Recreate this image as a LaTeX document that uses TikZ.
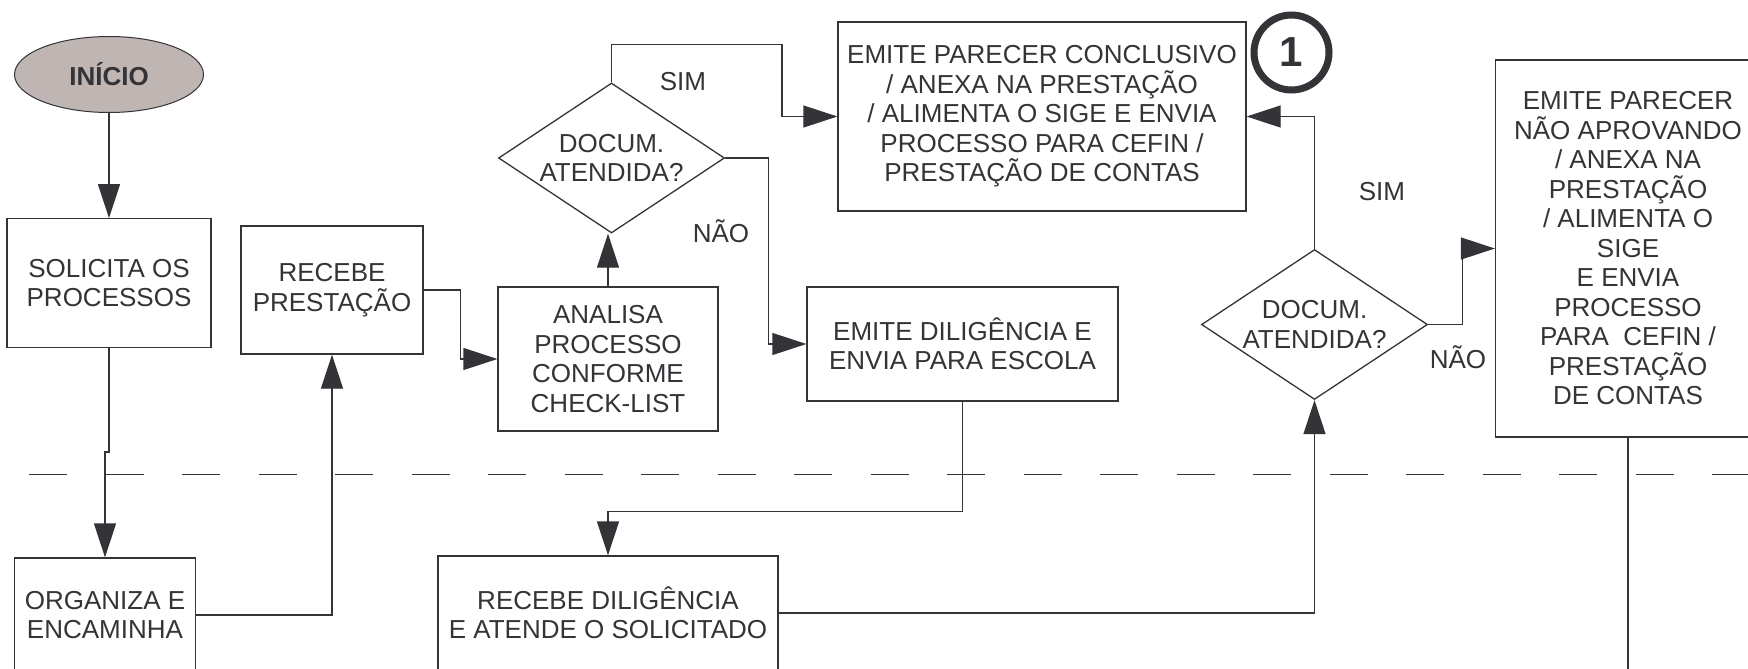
\documentclass[tikz,border=0pt]{standalone}
\usepackage{fontspec}
\setmainfont{Liberation Sans}
\usetikzlibrary{shapes.geometric,arrows.meta}
\definecolor{ink}{HTML}{333338}
\definecolor{startfill}{HTML}{BFB6B4}

\begin{document}
\begin{tikzpicture}[x=1pt, y=-1pt,
	box/.style={draw=ink, text=ink, line width=1.3pt, shape=rectangle, inner sep=0pt, align=center, font=\fontsize{26}{29.5}\selectfont},
	decision/.style={box, shape=diamond, aspect=1.5},
	arr/.style={draw=ink, line width=1.3pt, -{Triangle[length=34pt, width=22pt]}},
	lbl/.style={text=ink, inner sep=0pt, font=\fontsize{26}{29.5}\selectfont}]
	\useasboundingbox (0,0) rectangle (1748,669);
	\clip (0,0) rectangle (1748,669);

	\node[draw=ink, fill=startfill, text=ink, shape=ellipse, line width=1pt, minimum width=189pt, minimum height=76pt, inner sep=0pt, font=\bfseries\fontsize{26}{29}\selectfont] (p_start) at (109,74.5) {INÍCIO};
	\node[box, minimum width=204pt, minimum height=128.5pt] (m_solicita) at (109,283) {SOLICITA OS\\PROCESSOS};
	\node[box, minimum width=182pt, minimum height=128pt] (m_recebe) at (332,290) {RECEBE\\PRESTAÇÃO};
	\node[box, minimum width=181.5pt, minimum height=114pt] (m_organiza) at (105,615) {ORGANIZA E\\ENCAMINHA};
	\node[box, minimum width=220pt, minimum height=144pt] (m_analisa) at (608,359) {ANALISA\\PROCESSO\\CONFORME\\CHECK-LIST};
	\node[decision, minimum width=226pt, minimum height=150pt] (d_doc1) at (611.5,158) {DOCUM.\\ATENDIDA?};
	\node[box, minimum width=408pt, minimum height=189pt] (m_parecer) at (1042,116.5) {EMITE PARECER CONCLUSIVO\\/ ANEXA NA PRESTAÇÃO\\/ ALIMENTA O SIGE E ENVIA\\PROCESSO PARA CEFIN /\\PRESTAÇÃO DE CONTAS};
	\node[box, minimum width=311pt, minimum height=114pt] (m_dilig) at (962.5,344) {EMITE DILIGÊNCIA E\\ENVIA PARA ESCOLA};
	\node[box, minimum width=340pt, minimum height=114pt] (m_recdil) at (608,613) {RECEBE DILIGÊNCIA\\E ATENDE O SOLICITADO};
	\node[decision, minimum width=226pt, minimum height=150pt] (d_doc2) at (1314.5,324.5) {DOCUM.\\ATENDIDA?};
	\node[box, minimum width=265pt, minimum height=377pt] (m_naoaprov) at (1628,248.5) {EMITE PARECER\\NÃO APROVANDO\\/ ANEXA NA\\PRESTAÇÃO\\/ ALIMENTA O\\SIGE\\E ENVIA\\PROCESSO\\PARA\ \ CEFIN /\\PRESTAÇÃO\\DE CONTAS};
	\node[draw=ink, text=ink, shape=circle, line width=7pt, minimum size=75pt, inner sep=0pt, font=\bfseries\fontsize{42}{42}\selectfont] (p_one) at (1291.5,52.5) {1};

	\node[lbl] (l_sim1) at (683,82) {SIM};
	\node[lbl] (l_nao1) at (721,231) {NÃO};
	\node[lbl] (l_sim2) at (1382,192) {SIM};
	\node[lbl] (l_nao2) at (1458,357.5) {NÃO};

	\draw[ink, line width=1.3pt, dash pattern=on 38pt off 38.5pt] (29,474.5) -- (1760,474.5);

	\draw[arr] (p_start) -- (m_solicita);
	\draw[arr] (m_solicita.south) -- ++(0,104) -| (m_organiza.north);
	\draw[arr] (m_organiza.east) -| (m_recebe.south);
	\draw[arr] (m_recebe.east) -- ++(37,0) |- (m_analisa.west);
	\draw[arr] (m_analisa.north) -- (m_analisa.north |- d_doc1.south);
	\draw[arr] (d_doc1.north) |- (782,44.5) |- (m_parecer.west);
	\draw[arr] (d_doc1.east) -- ++(43,0) |- (m_dilig.west);
	\draw[arr] (m_dilig.south) -- ++(0,110) -| (m_recdil.north);
	\draw[arr] (m_recdil.east) -| (d_doc2.south);
	\draw[arr] (d_doc2.north) |- (m_parecer.east);
	\draw[arr] (d_doc2.east) -- ++(34.5,0) |- (m_naoaprov.west);
	\coordinate (c_naoend) at (1628,700);
	\draw[draw=ink, line width=1.3pt] (m_naoaprov.south) -- (c_naoend);
\end{tikzpicture}
\end{document}
